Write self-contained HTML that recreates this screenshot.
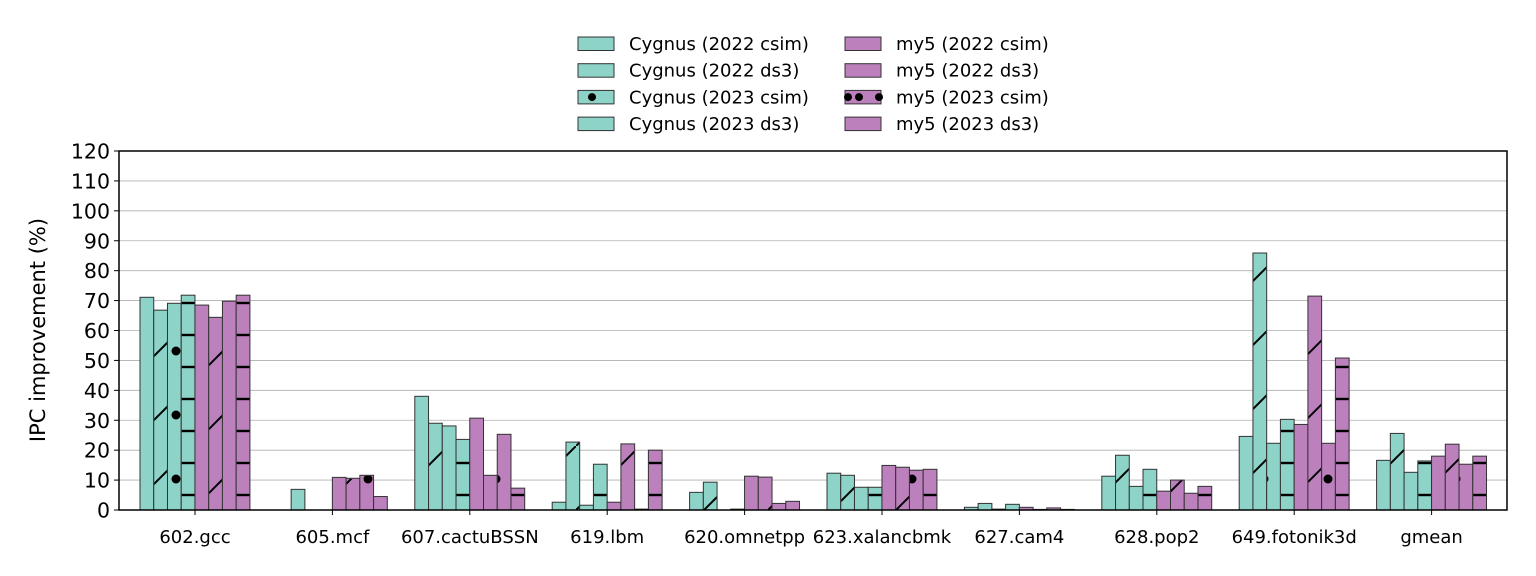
<!DOCTYPE html>
<html><head><meta charset="utf-8"><style>
html,body{margin:0;padding:0;background:#fff;}
svg{display:block;font-family:"DejaVu Sans","Liberation Sans",sans-serif;}
</style></head><body>
<svg id="chart" width="1536" height="576" xmlns="http://www.w3.org/2000/svg">
<defs>
<pattern id="p-slash" patternUnits="userSpaceOnUse" width="64" height="64" x="0" y="510">
<line x1="-4" y1="68" x2="68" y2="-4" stroke="#000" stroke-width="2"/>
</pattern>
<pattern id="p-dot" patternUnits="userSpaceOnUse" width="32" height="64" x="0" y="479">
<circle cx="16" cy="0" r="4.5" fill="#000"/><circle cx="16" cy="64" r="4.5" fill="#000"/>
</pattern>
<pattern id="p-dash" patternUnits="userSpaceOnUse" width="32" height="32" x="0" y="495">
<rect x="0" y="-1.2" width="32" height="2.4" fill="#000"/><rect x="0" y="30.8" width="32" height="2.4" fill="#000"/>
</pattern>
</defs>
<g id="grid"></g><g id="bars"></g><g id="axes"></g><g id="legend"></g>
</svg>
<script>
const categories = ["602.gcc","605.mcf","607.cactuBSSN","619.lbm","620.omnetpp","623.xalancbmk","627.cam4","628.pop2","649.fotonik3d","gmean"];
const seriesNames = ["Cygnus (2022 csim)","Cygnus (2022 ds3)","Cygnus (2023 csim)","Cygnus (2023 ds3)","my5 (2022 csim)","my5 (2022 ds3)","my5 (2023 csim)","my5 (2023 ds3)"];
const cyg22csim = [71.1, 0,   38.0, 2.6,  5.9, 12.3, 0.9, 11.3, 24.6, 16.6];
const cyg22ds3  = [66.8, 6.9, 29.0, 22.7, 9.3, 11.6, 2.2, 18.3, 85.9, 25.6];
const cyg23csim = [69.1, 0,   28.1, 1.6,  0,   7.6,  0.3, 7.9,  22.3, 12.6];
const cyg23ds3  = [71.8, 0,   23.6, 15.3, 0.3, 7.6,  1.9, 13.6, 30.3, 16.4];
const my22csim  = [68.5, 10.9, 30.7, 2.6, 11.3, 14.9, 0.9, 6.3, 28.6, 18.0];
const my22ds3   = [64.4, 10.6, 11.6, 22.1, 11.0, 14.3, 0.2, 10.0, 71.5, 22.0];
const my23csim  = [69.8, 11.6, 25.3, 0.3, 2.2, 13.3, 0.7, 5.6, 22.3, 15.3];
const my23ds3   = [71.8, 4.5,  7.3, 20.0, 2.9, 13.6, 0.2, 7.9, 50.8, 18.0];
const yTicks = [0,10,20,30,40,50,60,70,80,90,100,110,120];

const series = [cyg22csim,cyg22ds3,cyg23csim,cyg23ds3,my22csim,my22ds3,my23csim,my23ds3];
const colors = ["#8dd3c7","#8dd3c7","#8dd3c7","#8dd3c7","#bc80bd","#bc80bd","#bc80bd","#bc80bd"];
const hatches = [null,"p-slash","p-dot","p-dash",null,"p-slash","p-dot","p-dash"];
const NS="http://www.w3.org/2000/svg";
const L=119,R=1507,T=151,B=510;
function y(v){return B-(v/120)*(B-T);}
function xc(i){return 195+i*137.4;}
const bw=13.74;
function mk(tag,attrs,parent){const e=document.createElementNS(NS,tag);for(const k in attrs)e.setAttribute(k,attrs[k]);parent.appendChild(e);return e;}
const grid=document.getElementById('grid'),bars=document.getElementById('bars'),axes=document.getElementById('axes'),legend=document.getElementById('legend');
yTicks.forEach(t=>{
  const g=mk('line',{x1:L,x2:R,y1:y(t),y2:y(t),stroke:'#b0b0b0','stroke-width':0.8},grid);
  
  
  mk('line',{x1:L-5,x2:L,y1:y(t),y2:y(t),stroke:'#000','stroke-width':1},axes);
  const tx=mk('text',{x:L-9,y:y(t)+7.5,'text-anchor':'end','font-size':20.5},axes);
  tx.textContent=t;
  
  
});
categories.forEach((c,i)=>{
  series.forEach((s,j)=>{
    const x0=xc(i)-55+j*bw, yy=y(s[i]), h=B-yy;
    const r=mk('rect',{x:x0,y:yy,width:bw,height:h,fill:colors[j],stroke:'#333','stroke-width':1},bars);
    
    
    if(hatches[j]){mk('rect',{x:x0+0.5,y:yy+0.5,width:bw-1,height:Math.max(0,h-1),fill:'url(#'+hatches[j]+')'},bars);}
  });
  mk('line',{x1:xc(i),x2:xc(i),y1:B,y2:B+5,stroke:'#000','stroke-width':1},axes);
  const tx=mk('text',{x:xc(i),y:B+33,'text-anchor':'middle','font-size':18},axes);
  tx.textContent=c;
  
  
});
const fr=mk('rect',{x:L,y:T,width:R-L,height:B-T,fill:'none',stroke:'#000','stroke-width':1.5},axes);


const yt=mk('text',{x:0,y:0,transform:'translate(45,330) rotate(-90)','text-anchor':'middle','font-size':21},axes);
yt.textContent='IPC improvement (%)';


seriesNames.forEach((n,j)=>{
  const col=j<4?0:1,row=j%4;
  const sx=col?845:578, sy=37+row*26.7;
  const g=mk('g',{},legend);
  
  
  mk('rect',{x:sx,y:sy,width:36,height:13.5,fill:colors[j],stroke:'#333','stroke-width':1},g);
  if(j===2||j===6){mk('circle',{cx:sx+14,cy:sy+6.7,r:4,fill:'#000'},g);if(j===6){mk('circle',{cx:sx+3,cy:sy+6.7,r:4,fill:'#000'},g);mk('circle',{cx:sx+34,cy:sy+6.7,r:4,fill:'#000'},g);}}
  const t=mk('text',{x:sx+51,y:sy+13,'font-size':18},g);
  t.textContent=n;
});
</script>
</body></html>
